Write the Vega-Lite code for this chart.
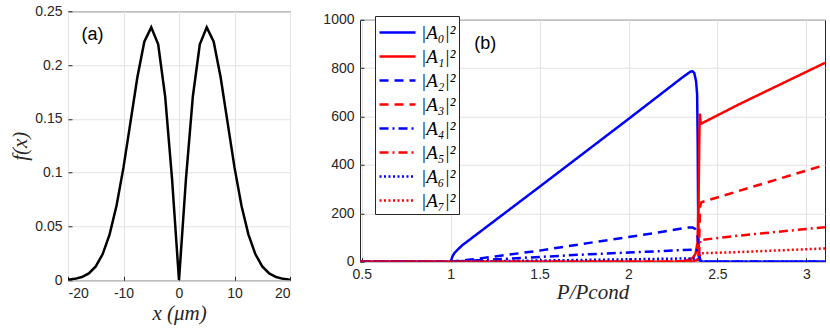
{
  "$schema": "https://vega.github.io/schema/vega-lite/v6.json",
  "background": "white",
  "padding": {"left": 9, "top": 3, "right": 4, "bottom": 4},
  "spacing": 31,
  "center": true,
  "bounds": "full",
  "config": {
    "view": {"stroke": "#262626", "strokeWidth": 1},
    "axis": {
      "grid": true, "gridColor": "#e3e3e3", "gridWidth": 1, "domain": false,
      "ticks": true, "tickColor": "#262626", "tickSize": -4, "labelPadding": 10,
      "labelFont": "Liberation Sans", "labelFontSize": 14, "labelColor": "#262626",
      "titleFont": "Liberation Serif", "titleFontStyle": "italic", "titleFontWeight": "normal",
      "titleFontSize": 21, "titleColor": "#262626"
    }
  },
  "datasets": {
    "profile": [
      {"x": -20, "f": 0.0005}, {"x": -18.75, "f": 0.0013}, {"x": -17.5, "f": 0.003}, {"x": -16.25, "f": 0.0064},
      {"x": -15, "f": 0.0129}, {"x": -13.75, "f": 0.0243}, {"x": -12.5, "f": 0.0426}, {"x": -11.25, "f": 0.0694},
      {"x": -10, "f": 0.1049}, {"x": -8.75, "f": 0.1467}, {"x": -7.5, "f": 0.1887}, {"x": -6.25, "f": 0.2217},
      {"x": -5, "f": 0.235}, {"x": -3.75, "f": 0.2193}, {"x": -2.5, "f": 0.171}, {"x": -1.25, "f": 0.0939},
      {"x": 0, "f": 0},
      {"x": 1.25, "f": 0.0939}, {"x": 2.5, "f": 0.171}, {"x": 3.75, "f": 0.2193}, {"x": 5, "f": 0.235},
      {"x": 6.25, "f": 0.2217}, {"x": 7.5, "f": 0.1887}, {"x": 8.75, "f": 0.1467}, {"x": 10, "f": 0.1049},
      {"x": 11.25, "f": 0.0694}, {"x": 12.5, "f": 0.0426}, {"x": 13.75, "f": 0.0243}, {"x": 15, "f": 0.0129},
      {"x": 16.25, "f": 0.0064}, {"x": 17.5, "f": 0.003}, {"x": 18.75, "f": 0.0013}, {"x": 20, "f": 0.0005}
    ],
    "modes": [
      {"n": "|A₀|²", "p": 0.49, "v": 0}, {"n": "|A₀|²", "p": 1.0, "v": 0}, {"n": "|A₀|²", "p": 1.01, "v": 22},
      {"n": "|A₀|²", "p": 1.02, "v": 35}, {"n": "|A₀|²", "p": 1.035, "v": 47}, {"n": "|A₀|²", "p": 1.063, "v": 67},
      {"n": "|A₀|²", "p": 1.5, "v": 310}, {"n": "|A₀|²", "p": 2.0, "v": 590}, {"n": "|A₀|²", "p": 2.3, "v": 760},
      {"n": "|A₀|²", "p": 2.33, "v": 776}, {"n": "|A₀|²", "p": 2.35, "v": 786}, {"n": "|A₀|²", "p": 2.36, "v": 787},
      {"n": "|A₀|²", "p": 2.37, "v": 780}, {"n": "|A₀|²", "p": 2.38, "v": 745}, {"n": "|A₀|²", "p": 2.386, "v": 690},
      {"n": "|A₀|²", "p": 2.389, "v": 500}, {"n": "|A₀|²", "p": 2.391, "v": 250}, {"n": "|A₀|²", "p": 2.393, "v": 80},
      {"n": "|A₀|²", "p": 2.397, "v": 35}, {"n": "|A₀|²", "p": 2.402, "v": 12}, {"n": "|A₀|²", "p": 2.408, "v": 3},
      {"n": "|A₀|²", "p": 2.415, "v": 0}, {"n": "|A₀|²", "p": 3.105, "v": 0},

      {"n": "|A₁|²", "p": 0.49, "v": 0}, {"n": "|A₁|²", "p": 2.25, "v": 0}, {"n": "|A₁|²", "p": 2.3, "v": 2},
      {"n": "|A₁|²", "p": 2.33, "v": 6}, {"n": "|A₁|²", "p": 2.36, "v": 15}, {"n": "|A₁|²", "p": 2.377, "v": 33},
      {"n": "|A₁|²", "p": 2.388, "v": 80}, {"n": "|A₁|²", "p": 2.394, "v": 250}, {"n": "|A₁|²", "p": 2.398, "v": 500},
      {"n": "|A₁|²", "p": 2.401, "v": 612}, {"n": "|A₁|²", "p": 2.404, "v": 590}, {"n": "|A₁|²", "p": 2.407, "v": 570},
      {"n": "|A₁|²", "p": 2.62, "v": 650}, {"n": "|A₁|²", "p": 3.105, "v": 822},

      {"n": "|A₂|²", "p": 0.49, "v": 0}, {"n": "|A₂|²", "p": 1.0, "v": 0}, {"n": "|A₂|²", "p": 1.1, "v": 8},
      {"n": "|A₂|²", "p": 1.25, "v": 22}, {"n": "|A₂|²", "p": 1.5, "v": 46}, {"n": "|A₂|²", "p": 1.78, "v": 78},
      {"n": "|A₂|²", "p": 2.0, "v": 102}, {"n": "|A₂|²", "p": 2.2, "v": 125}, {"n": "|A₂|²", "p": 2.34, "v": 142},
      {"n": "|A₂|²", "p": 2.36, "v": 142}, {"n": "|A₂|²", "p": 2.375, "v": 136}, {"n": "|A₂|²", "p": 2.385, "v": 120},
      {"n": "|A₂|²", "p": 2.39, "v": 95}, {"n": "|A₂|²", "p": 2.395, "v": 50}, {"n": "|A₂|²", "p": 2.4, "v": 10},
      {"n": "|A₂|²", "p": 2.41, "v": 0}, {"n": "|A₂|²", "p": 3.105, "v": 0},

      {"n": "|A₃|²", "p": 0.49, "v": 0}, {"n": "|A₃|²", "p": 2.3, "v": 0}, {"n": "|A₃|²", "p": 2.37, "v": 2},
      {"n": "|A₃|²", "p": 2.39, "v": 10}, {"n": "|A₃|²", "p": 2.398, "v": 100}, {"n": "|A₃|²", "p": 2.403, "v": 230},
      {"n": "|A₃|²", "p": 2.41, "v": 246}, {"n": "|A₃|²", "p": 3.105, "v": 400},

      {"n": "|A₄|²", "p": 0.49, "v": 0}, {"n": "|A₄|²", "p": 1.0, "v": 0}, {"n": "|A₄|²", "p": 1.3, "v": 12},
      {"n": "|A₄|²", "p": 1.78, "v": 31}, {"n": "|A₄|²", "p": 2.0, "v": 38}, {"n": "|A₄|²", "p": 2.36, "v": 50},
      {"n": "|A₄|²", "p": 2.385, "v": 48}, {"n": "|A₄|²", "p": 2.393, "v": 30}, {"n": "|A₄|²", "p": 2.4, "v": 5},
      {"n": "|A₄|²", "p": 2.41, "v": 0}, {"n": "|A₄|²", "p": 3.105, "v": 0},

      {"n": "|A₅|²", "p": 0.49, "v": 0}, {"n": "|A₅|²", "p": 2.3, "v": 0}, {"n": "|A₅|²", "p": 2.37, "v": 2},
      {"n": "|A₅|²", "p": 2.39, "v": 8}, {"n": "|A₅|²", "p": 2.398, "v": 50}, {"n": "|A₅|²", "p": 2.405, "v": 90},
      {"n": "|A₅|²", "p": 2.62, "v": 108}, {"n": "|A₅|²", "p": 3.105, "v": 143},

      {"n": "|A₆|²", "p": 0.49, "v": 0}, {"n": "|A₆|²", "p": 1.0, "v": 0}, {"n": "|A₆|²", "p": 1.5, "v": 5},
      {"n": "|A₆|²", "p": 2.0, "v": 10}, {"n": "|A₆|²", "p": 2.36, "v": 14}, {"n": "|A₆|²", "p": 2.39, "v": 10},
      {"n": "|A₆|²", "p": 2.4, "v": 0}, {"n": "|A₆|²", "p": 3.105, "v": 0},

      {"n": "|A₇|²", "p": 0.49, "v": 0}, {"n": "|A₇|²", "p": 2.3, "v": 0}, {"n": "|A₇|²", "p": 2.38, "v": 3},
      {"n": "|A₇|²", "p": 2.395, "v": 15}, {"n": "|A₇|²", "p": 2.405, "v": 35}, {"n": "|A₇|²", "p": 2.62, "v": 40},
      {"n": "|A₇|²", "p": 3.105, "v": 55}
    ]
  },
  "hconcat": [
    {
      "width": 222,
      "height": 269,
      "layer": [
        {
          "data": {"name": "profile"},
          "mark": {"type": "line", "color": "#000000", "strokeWidth": 2.5, "clip": true},
          "encoding": {
            "x": {"field": "x", "type": "quantitative",
                  "scale": {"domain": [-20, 20], "nice": false, "zero": false},
                  "axis": {"values": [-20, -10, 0, 10, 20], "labelExpr": "toString(datum.value)", "title": "x (μm)", "titlePadding": 2}},
            "y": {"field": "f", "type": "quantitative",
                  "scale": {"domain": [0, 0.25], "nice": false},
                  "axis": {"values": [0, 0.05, 0.1, 0.15, 0.2, 0.25], "labelExpr": "toString(datum.value)", "title": "f(x)"}}
          }
        },
        {
          "data": {"values": [{"x": -15.6, "f": 0.228, "label": "(a)"}]},
          "mark": {"type": "text", "font": "Liberation Sans", "fontSize": 18, "color": "#000000", "align": "center", "baseline": "middle"},
          "encoding": {
            "x": {"field": "x", "type": "quantitative"},
            "y": {"field": "f", "type": "quantitative"},
            "text": {"field": "label"}
          }
        }
      ]
    },
    {
      "width": 465,
      "height": 242,
      "layer": [
        {
          "data": {"name": "modes"},
          "mark": {"type": "line", "strokeWidth": 2.5, "clip": true},
          "encoding": {
            "x": {"field": "p", "type": "quantitative",
                  "scale": {"domain": [0.49, 3.105], "nice": false, "zero": false},
                  "axis": {"values": [0.5, 1, 1.5, 2, 2.5, 3], "labelExpr": "toString(datum.value)",
                           "title": ["P/Pcond", " "], "titleLineHeight": 12, "titlePadding": 0}},
            "y": {"field": "v", "type": "quantitative",
                  "scale": {"domain": [0, 1000], "nice": false},
                  "axis": {"values": [0, 200, 400, 600, 800, 1000], "labelExpr": "toString(datum.value)", "title": null}},
            "color": {"field": "n", "type": "nominal",
                      "scale": {"domain": ["|A₀|²", "|A₁|²", "|A₂|²", "|A₃|²", "|A₄|²", "|A₅|²", "|A₆|²", "|A₇|²"],
                                "range": ["#0000ff", "#ff0000", "#0000ff", "#ff0000", "#0000ff", "#ff0000", "#0000ff", "#ff0000"]},
                      "legend": {"orient": "none", "legendX": 307, "legendY": 5, "title": null,
                                 "symbolType": "M-1,0L2,0", "symbolSize": 576, "symbolStrokeWidth": 2.5,
                                 "labelFont": "Liberation Serif", "labelFontSize": 19, "labelFontStyle": "italic",
                                 "labelColor": "#000000", "labelOffset": 16, "padding": 3, "rowPadding": 0,
                                 "strokeColor": "#262626", "fillColor": "white"}},
            "strokeDash": {"field": "n", "type": "nominal",
                      "scale": {"domain": ["|A₀|²", "|A₁|²", "|A₂|²", "|A₃|²", "|A₄|²", "|A₅|²", "|A₆|²", "|A₇|²"],
                                "range": [[1, 0], [1, 0], [9, 6], [9, 6], [9, 4, 2, 4], [9, 4, 2, 4], [2, 2.5], [2, 2.5]]},
                      "legend": {"orient": "none", "legendX": 307, "legendY": 5, "title": null,
                                 "symbolType": "M-1,0L2,0", "symbolSize": 576, "symbolStrokeWidth": 2.5,
                                 "labelFont": "Liberation Serif", "labelFontSize": 19, "labelFontStyle": "italic",
                                 "labelColor": "#000000", "labelOffset": 16, "padding": 3, "rowPadding": 0,
                                 "strokeColor": "#262626", "fillColor": "white"}}
          }
        },
        {
          "data": {"values": [{"p": 1.195, "v": 901, "label": "(b)"}]},
          "mark": {"type": "text", "font": "Liberation Sans", "fontSize": 18, "color": "#000000", "align": "center", "baseline": "middle"},
          "encoding": {
            "x": {"field": "p", "type": "quantitative"},
            "y": {"field": "v", "type": "quantitative"},
            "text": {"field": "label"}
          }
        }
      ]
    }
  ]
}
